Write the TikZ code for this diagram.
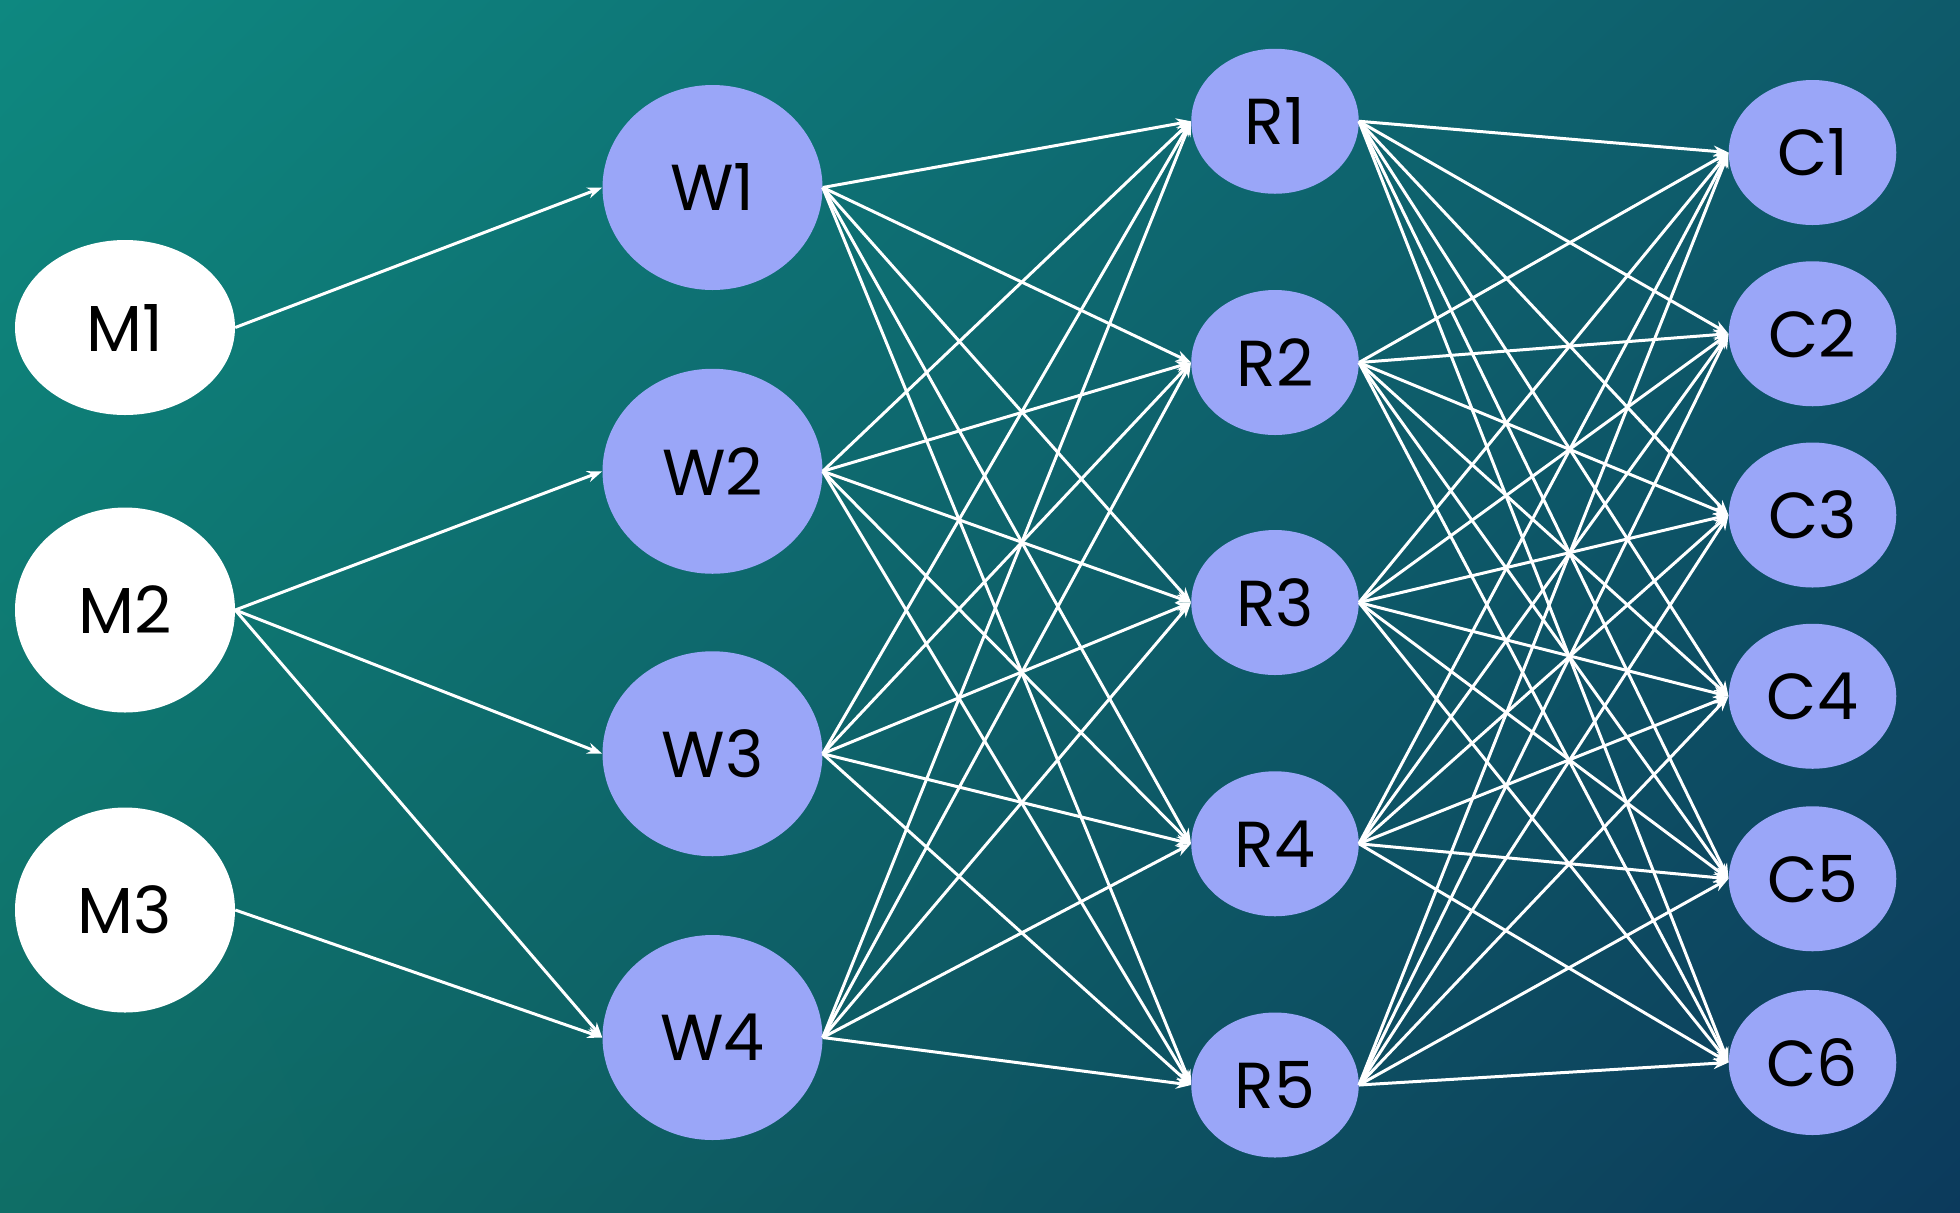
\documentclass[tikz,border=0pt]{standalone}
\usepackage{fontspec}
\setmainfont{Poppins}
\usetikzlibrary{shapes.geometric,arrows.meta,shadings}
\definecolor{bgTL}{HTML}{0E8880}
\definecolor{bgTR}{HTML}{0E5A6A}
\definecolor{bgBL}{HTML}{0F6E66}
\definecolor{bgBR}{HTML}{0C3A5C}
\definecolor{nodeB}{HTML}{9AA6F8}
\begin{document}
\begin{tikzpicture}[x=1pt,y=-1pt,
  wn/.style={ellipse,fill=white,minimum width=176pt,inner sep=0pt,font=\fontsize{52}{52}\selectfont},
  bn/.style={ellipse,fill=nodeB,inner sep=0pt,font=\fontsize{52}{52}\selectfont},
  big/.style={bn,minimum width=176pt,minimum height=164pt},
  sm/.style={bn,minimum width=134pt,minimum height=116pt},
  ar/.style={draw=white,line width=2.4pt,-{Stealth[length=12pt,width=9pt]}}]
\useasboundingbox (0,0) rectangle (1568,970);
\shade[upper left=bgTL,upper right=bgTR,lower left=bgBL,lower right=bgBR] (0,0) rectangle (1568,970);
\node[wn,minimum height=140pt] (M1) at (100,262) {M1};
\node[wn,minimum height=164pt] (M2) at (100,488) {M2};
\node[wn,minimum height=164pt] (M3) at (100,728) {M3};
\foreach \i/\y in {1/150,2/377,3/603,4/830} \node[big] (W\i) at (570,\y) {W\i};
\foreach \i/\y in {1/97,2/290,3/482,4/675,5/868} \node[sm] (R\i) at (1020,\y) {R\i};
\foreach \i/\y in {1/122,2/267,3/412,4/557,5/703,6/850} \node[sm] (C\i) at (1450,\y) {C\i};
\draw[ar] (M1.east) -- (W1.west);
\draw[ar] (M2.east) -- (W2.west);
\draw[ar] (M2.east) -- (W3.west);
\draw[ar] (M2.east) -- (W4.west);
\draw[ar] (M3.east) -- (W4.west);
\foreach \i in {1,...,4} \foreach \j in {1,...,5} \draw[ar] (W\i.east) -- (R\j.west);
\foreach \i in {1,...,5} \foreach \j in {1,...,6} \draw[ar] (R\i.east) -- (C\j.west);
\end{tikzpicture}
\end{document}
